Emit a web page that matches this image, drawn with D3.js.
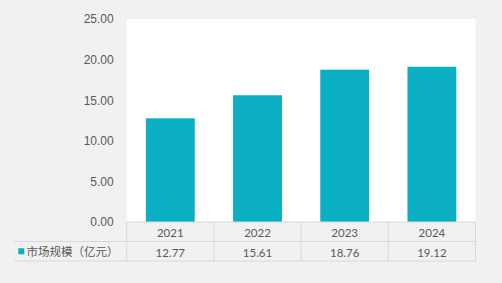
<!DOCTYPE html>
<html>
<head>
<meta charset="utf-8">
<script src="https://cdn.jsdelivr.net/npm/d3@7"></script>
<style>
  html, body { margin: 0; padding: 0; background: #f1f1f1; }
  svg { display: block; }
</style>
</head>
<body>
<svg id="chart"></svg>
<script>
// --- data ---
const years = ['2021', '2022', '2023', '2024'];
const marketSize = [12.77, 15.61, 18.76, 19.12];
const yTicks = [0, 5, 10, 15, 20, 25];
const seriesName = '市场规模（亿元）';

const W = 502, H = 283;
const plot = { left: 126.7, right: 475.5, top: 19, bottom: 222 };
const rowH = 19.5;
const tableLeft = 14;
const barColour = '#0aafc4';
const textColour = '#595959';
const lineColour = '#d9d9d9';

const svg = d3.select('#chart').attr('width', W).attr('height', H);

svg.append('rect').attr('width', W).attr('height', H).attr('fill', '#f1f1f1');

const x = d3.scaleBand().domain(years).range([plot.left, plot.right]).paddingInner(0.44).paddingOuter(0.22);
const xCell = d3.scaleBand().domain(years).range([plot.left, plot.right]);
const y = d3.scaleLinear().domain([0, 25]).range([plot.bottom, plot.top]);

// plot area
svg.append('rect')
  .attr('x', plot.left).attr('y', plot.top)
  .attr('width', plot.right - plot.left).attr('height', plot.bottom - plot.top)
  .attr('fill', '#ffffff');

// y axis labels
const yAxis = d3.axisLeft(y).tickValues(yTicks).tickFormat(d3.format('.2f')).tickSize(0).tickPadding(13);
const yg = svg.append('g').attr('transform', `translate(${plot.left},0)`).call(yAxis);
yg.select('.domain').remove();
yg.selectAll('text')
  .attr('fill', textColour)
  .attr('font-family', 'Liberation Sans, Arial, sans-serif')
  .attr('font-size', '12px');

// bars
svg.append('g').selectAll('rect')
  .data(years)
  .enter()
  .append('rect')
  .attr('x', d => x(d))
  .attr('width', x.bandwidth())
  .attr('y', (d, i) => y(marketSize[i]))
  .attr('height', (d, i) => y(0) - y(marketSize[i]))
  .attr('fill', barColour);

// data table
const table = svg.append('g');
const r1 = plot.bottom, r2 = plot.bottom + rowH, r3 = plot.bottom + 2 * rowH;

// horizontal lines
table.append('line').attr('x1', plot.left).attr('x2', plot.right).attr('y1', r1).attr('y2', r1);
table.append('line').attr('x1', tableLeft).attr('x2', plot.right).attr('y1', r2).attr('y2', r2);
table.append('line').attr('x1', tableLeft).attr('x2', plot.right).attr('y1', r3).attr('y2', r3);
// vertical lines
const vx = years.map(d => xCell(d)).concat([plot.right]);
vx.forEach(v => {
  table.append('line').attr('x1', v).attr('x2', v).attr('y1', r1).attr('y2', r3);
});
table.selectAll('line').attr('stroke', lineColour).attr('stroke-width', 1);

const cellFont = 'Lato, "Open Sans", sans-serif';
table.selectAll('text.year')
  .data(years)
  .enter()
  .append('text')
  .attr('class', 'year')
  .attr('x', d => xCell(d) + xCell.bandwidth() / 2)
  .attr('y', r1 + rowH / 2 + 1)
  .attr('text-anchor', 'middle')
  .attr('dominant-baseline', 'central')
  .attr('fill', textColour)
  .attr('font-family', cellFont)
  .attr('font-size', '11.5px')
  .text(d => d);

table.selectAll('text.val')
  .data(years)
  .enter()
  .append('text')
  .attr('class', 'val')
  .attr('x', d => xCell(d) + xCell.bandwidth() / 2)
  .attr('y', r2 + rowH / 2 + 1)
  .attr('text-anchor', 'middle')
  .attr('dominant-baseline', 'central')
  .attr('fill', textColour)
  .attr('font-family', cellFont)
  .attr('font-size', '11.5px')
  .text((d, i) => marketSize[i].toFixed(2));

// legend key + series name
table.append('rect')
  .attr('x', 18.3).attr('y', r2 + rowH / 2 - 3)
  .attr('width', 6).attr('height', 6)
  .attr('fill', barColour);
table.append('text')
  .attr('x', 26.5).attr('y', r2 + rowH / 2)
  .attr('dominant-baseline', 'central')
  .attr('fill', textColour)
  .attr('font-family', '"Noto Sans CJK SC", sans-serif')
  .attr('font-size', '11.5px')
  .text(seriesName);
</script>
</body>
</html>
